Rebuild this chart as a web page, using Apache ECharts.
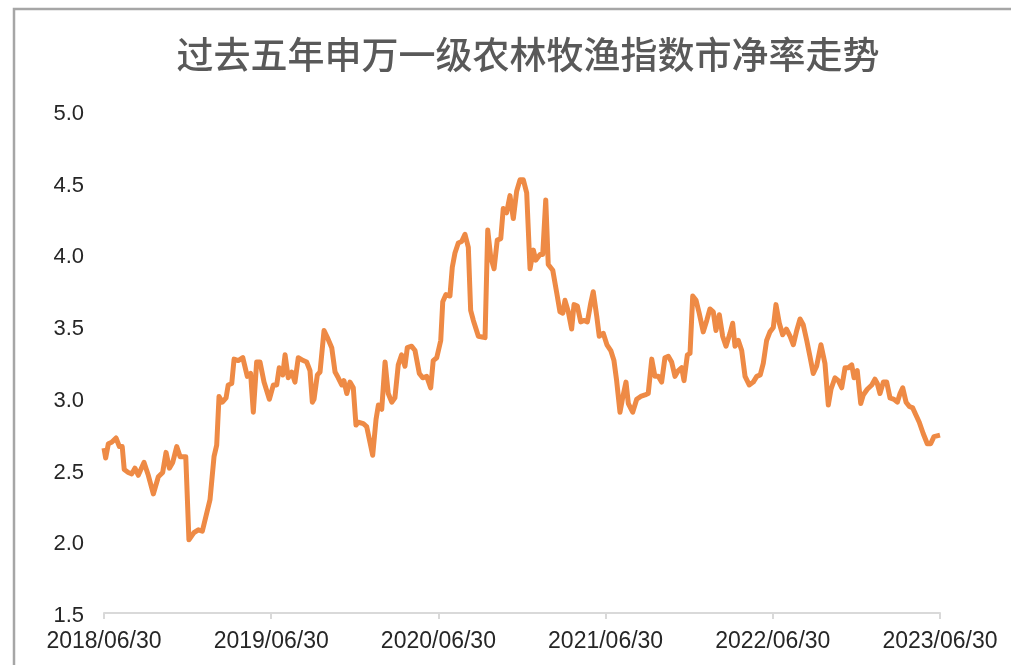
<!DOCTYPE html>
<html>
<head>
<meta charset="utf-8">
<script src="https://cdn.jsdelivr.net/npm/echarts@6/dist/echarts.min.js"></script>
<style>
  html, body { margin: 0; padding: 0; background: #fff; }
  #main { width: 1011px; height: 665px; }
</style>
</head>
<body>
<div id="main"></div>
<script>
// 标题
const titleText = "过去五年申万一级农林牧渔指数市净率走势";

// x轴刻度标签（每年一个）
const tickLabels = ["2018/06/30", "2019/06/30", "2020/06/30", "2021/06/30", "2022/06/30", "2023/06/30"];

// 距 2018/06/30 的年数
const xYears = [
  0, 0.010, 0.026, 0.046, 0.072, 0.092, 0.109, 0.121, 0.145, 0.166,
  0.185, 0.205, 0.239, 0.265, 0.295, 0.325, 0.351, 0.371, 0.391, 0.411,
  0.435, 0.455, 0.489, 0.508, 0.538, 0.564, 0.588, 0.634, 0.658, 0.674,
  0.688, 0.708, 0.730, 0.743, 0.764, 0.778, 0.803, 0.830, 0.857, 0.877,
  0.893, 0.913, 0.933, 0.957, 0.989, 1.013, 1.033, 1.048, 1.069, 1.083,
  1.102, 1.123, 1.142, 1.162, 1.192, 1.212, 1.232, 1.246, 1.256, 1.276,
  1.292, 1.316, 1.336, 1.362, 1.382, 1.401, 1.422, 1.435, 1.452, 1.471,
  1.491, 1.507, 1.521, 1.551, 1.571, 1.607, 1.627, 1.641, 1.661, 1.681,
  1.700, 1.721, 1.740, 1.760, 1.780, 1.800, 1.814, 1.840, 1.860, 1.886,
  1.906, 1.930, 1.954, 1.969, 1.990, 2.014, 2.026, 2.045, 2.069, 2.083,
  2.099, 2.119, 2.139, 2.159, 2.179, 2.193, 2.209, 2.239, 2.279, 2.295,
  2.313, 2.333, 2.352, 2.373, 2.388, 2.408, 2.428, 2.448, 2.468, 2.488,
  2.508, 2.528, 2.548, 2.568, 2.582, 2.608, 2.624, 2.642, 2.657, 2.684,
  2.708, 2.727, 2.744, 2.757, 2.777, 2.797, 2.811, 2.831, 2.851, 2.871,
  2.891, 2.911, 2.926, 2.947, 2.962, 2.986, 3.008, 3.031, 3.050, 3.066,
  3.086, 3.102, 3.122, 3.136, 3.162, 3.186, 3.210, 3.236, 3.255, 3.276,
  3.295, 3.315, 3.335, 3.355, 3.375, 3.395, 3.415, 3.435, 3.455, 3.469,
  3.489, 3.505, 3.521, 3.541, 3.560, 3.584, 3.605, 3.624, 3.644, 3.660,
  3.680, 3.700, 3.720, 3.744, 3.760, 3.774, 3.794, 3.814, 3.834, 3.859,
  3.883, 3.904, 3.925, 3.943, 3.963, 3.983, 4.003, 4.019, 4.039, 4.059,
  4.081, 4.103, 4.123, 4.143, 4.163, 4.182, 4.203, 4.222, 4.242, 4.262,
  4.288, 4.312, 4.332, 4.348, 4.372, 4.392, 4.412, 4.432, 4.452, 4.472,
  4.486, 4.505, 4.526, 4.541, 4.565, 4.592, 4.611, 4.625, 4.641, 4.661,
  4.681, 4.701, 4.725, 4.745, 4.761, 4.777, 4.797, 4.817, 4.837, 4.856,
  4.876, 4.900, 4.924, 4.944, 4.964, 5.000
];

// 市净率 PB
const pbValues = [
  2.65, 2.58, 2.68, 2.69, 2.72, 2.66, 2.66, 2.50, 2.48, 2.47,
  2.51, 2.46, 2.55, 2.46, 2.33, 2.45, 2.48, 2.62, 2.51, 2.55,
  2.66, 2.59, 2.59, 2.01, 2.06, 2.08, 2.07, 2.29, 2.59, 2.67,
  3.01, 2.97, 3.00, 3.09, 3.10, 3.27, 3.26, 3.28, 3.15, 3.17,
  2.90, 3.25, 3.25, 3.11, 2.99, 3.09, 3.09, 3.21, 3.16, 3.30,
  3.14, 3.18, 3.11, 3.28, 3.26, 3.25, 3.19, 2.97, 2.99, 3.16,
  3.18, 3.47, 3.42, 3.35, 3.18, 3.14, 3.09, 3.12, 3.03, 3.11,
  3.07, 2.81, 2.83, 2.82, 2.80, 2.60, 2.85, 2.95, 2.92, 3.25,
  3.03, 2.97, 3.00, 3.23, 3.30, 3.22, 3.35, 3.36, 3.33, 3.17,
  3.14, 3.15, 3.07, 3.26, 3.28, 3.40, 3.67, 3.72, 3.71, 3.91,
  4.01, 4.08, 4.09, 4.14, 4.05, 3.61, 3.54, 3.43, 3.42, 4.17,
  3.98, 3.90, 4.10, 4.11, 4.32, 4.29, 4.41, 4.25, 4.44, 4.52,
  4.52, 4.43, 3.90, 4.03, 3.96, 4.00, 4.00, 4.38, 3.93, 3.89,
  3.73, 3.60, 3.59, 3.68, 3.60, 3.48, 3.65, 3.64, 3.53, 3.54,
  3.53, 3.66, 3.74, 3.57, 3.43, 3.45, 3.37, 3.33, 3.26, 3.12,
  2.90, 3.00, 3.11, 2.96, 2.90, 2.99, 3.01, 3.02, 3.03, 3.27,
  3.15, 3.15, 3.11, 3.28, 3.29, 3.25, 3.15, 3.19, 3.21, 3.12,
  3.30, 3.31, 3.71, 3.68, 3.59, 3.46, 3.54, 3.62, 3.60, 3.47,
  3.58, 3.43, 3.36, 3.45, 3.52, 3.36, 3.40, 3.33, 3.15, 3.09,
  3.11, 3.15, 3.16, 3.24, 3.40, 3.46, 3.49, 3.65, 3.52, 3.44,
  3.48, 3.43, 3.37, 3.47, 3.55, 3.51, 3.40, 3.29, 3.17, 3.22,
  3.37, 3.24, 2.95, 3.06, 3.14, 3.12, 3.07, 3.21, 3.21, 3.23,
  3.14, 3.19, 2.96, 3.02, 3.06, 3.09, 3.13, 3.10, 3.03, 3.11,
  3.11, 3.00, 2.99, 2.97, 3.03, 3.07, 2.97, 2.94, 2.93, 2.88,
  2.83, 2.75, 2.68, 2.68, 2.73, 2.74
];

const lineData = xYears.map((x, i) => [x, pbValues[i]]);

const chart = echarts.init(document.getElementById("main"));
const option = {
  backgroundColor: "#fff",
  animation: false,
  graphic: [
    {
      type: "rect",
      shape: { x: 14, y: 9, width: 1100, height: 800 },
      style: { fill: "none", stroke: "#a6a6a6", lineWidth: 2.5 },
      silent: true
    }
  ],
  title: {
    text: titleText,
    left: 523,
    top: 31,
    textAlign: "center",
    textStyle: {
      fontFamily: "Noto Sans CJK SC",
      fontSize: 37,
      fontWeight: 500,
      color: "#595959"
    }
  },
  grid: {
    left: 104,
    right: 71,
    top: 111,
    bottom: 52,
    containLabel: false
  },
  xAxis: {
    type: "value",
    min: 0,
    max: 5,
    interval: 1,
    axisLine: { lineStyle: { color: "#d9d9d9", width: 2 } },
    axisTick: { show: true, length: 6, lineStyle: { color: "#d9d9d9", width: 2 } },
    splitLine: { show: false },
    axisLabel: {
      margin: 17,
      fontFamily: "Liberation Sans",
      fontSize: 23,
      color: "#262626",
      formatter: v => tickLabels[Math.round(v)] || ""
    }
  },
  yAxis: {
    type: "value",
    min: 1.5,
    max: 5,
    interval: 0.5,
    axisLine: { show: false },
    axisTick: { show: false },
    splitLine: { show: false },
    axisLabel: {
      margin: 20,
      formatter: v => "{a|" + v.toFixed(1) + "}",
      rich: {
        a: {
          fontFamily: "Liberation Sans",
          fontSize: 22,
          color: "#262626",
          padding: [6, 0, 0, 0]
        }
      }
    }
  },
  series: [
    {
      type: "line",
      data: lineData,
      showSymbol: false,
      smooth: false,
      lineStyle: { color: "#EE8A45", width: 5, join: "round" }
    }
  ]
};
chart.setOption(option);
</script>
</body>
</html>
